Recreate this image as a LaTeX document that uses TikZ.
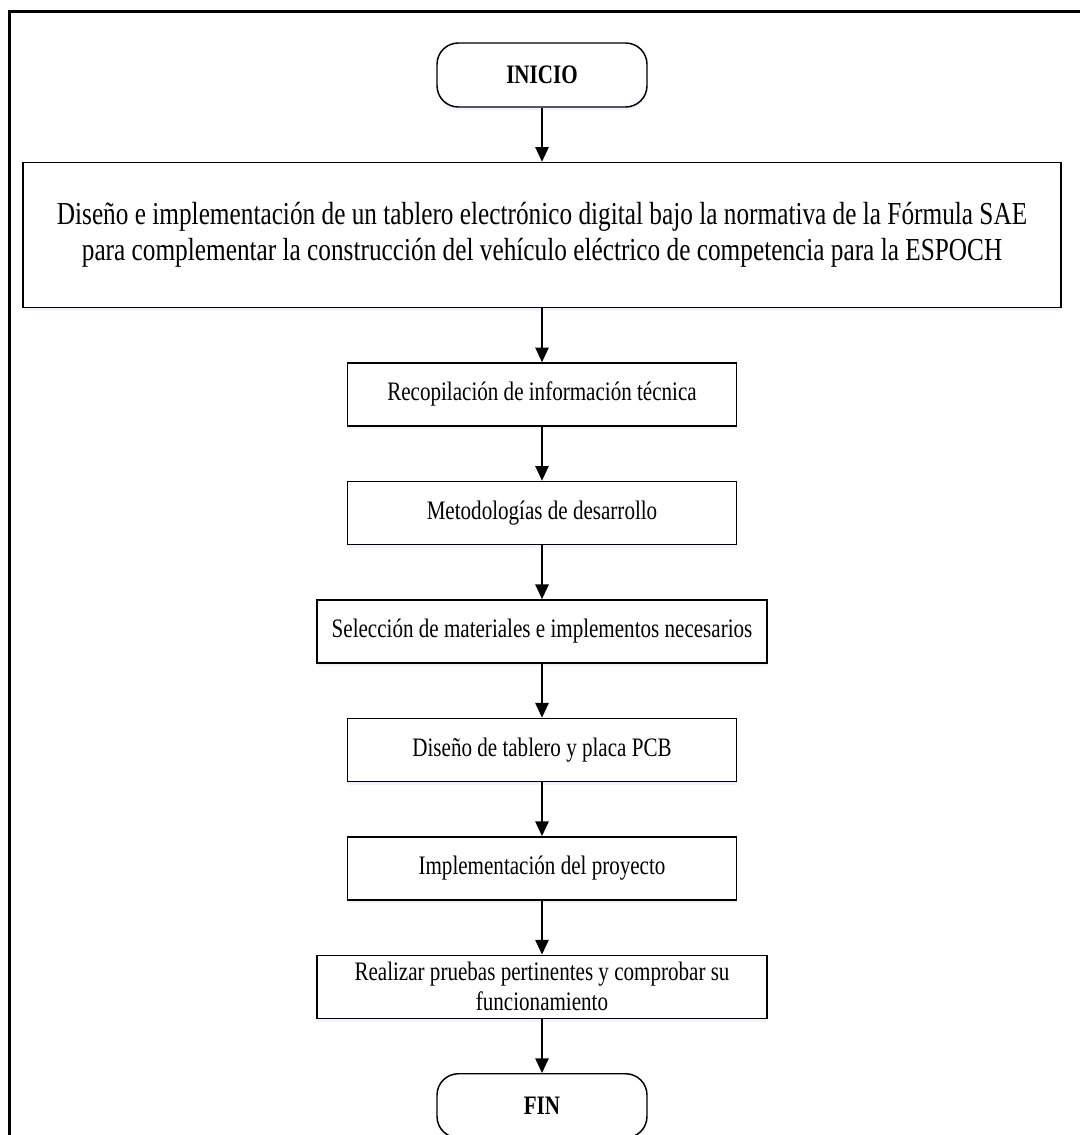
\documentclass[tikz,border=0pt]{standalone}
\usepackage{fontspec}
\setmainfont{Liberation Serif}[FakeStretch=0.79]
\usetikzlibrary{arrows.meta,positioning,shadows}

\begin{document}
\begin{tikzpicture}[
  node distance=40.5pt,
  base/.style={draw,fill=white,line width=1.1pt,align=center,inner sep=2pt,
               drop shadow={opacity=0.10,fill=blue!50,shadow xshift=0pt,shadow yshift=-2.5pt}},
  term/.style={base,rounded corners=16pt,minimum width=157.5pt,minimum height=48pt,
               font=\fontsize{20}{22}\selectfont\bfseries},
  titlebox/.style={base,minimum width=778.5pt,minimum height=108.75pt,
               font=\fontsize{24}{27}\selectfont},
  stepbox/.style={base,minimum width=291.75pt,minimum height=47.25pt,
               font=\fontsize{20}{22.5}\selectfont},
  widebox/.style={stepbox,minimum width=337.5pt},
  ar/.style={-{Triangle[length=11pt,width=10pt]},line width=1.2pt}
]
\useasboundingbox (0,0) rectangle (810pt,-851.25pt);
% page frame
\draw[line width=2.25pt] (6.75pt,-851.25pt) -- (6.75pt,-8.25pt) -- (810pt,-8.25pt);

\node[term] (inicio) at (406.5pt,-56.25pt) {INICIO};
\node[titlebox, below=of inicio] (titulo) {Diseño e implementación de un tablero electrónico digital bajo la normativa de la Fórmula SAE\\para complementar la construcción del vehículo eléctrico de competencia para la ESPOCH};
\node[stepbox, below=of titulo] (recop) {Recopilación de información técnica};
\node[stepbox, below=of recop] (metod) {Metodologías de desarrollo};
\node[widebox, below=of metod] (selec) {Selección de materiales e implementos necesarios};
\node[stepbox, below=of selec] (tablero) {Diseño de tablero y placa PCB};
\node[stepbox, below=of tablero] (implem) {Implementación del proyecto};
\node[widebox, below=of implem] (pruebas) {Realizar pruebas pertinentes y comprobar su\\funcionamiento};
\node[term, below=of pruebas] (fin) {FIN};

\draw[ar] (inicio) -- (titulo);
\draw[ar] (titulo) -- (recop);
\draw[ar] (recop) -- (metod);
\draw[ar] (metod) -- (selec);
\draw[ar] (selec) -- (tablero);
\draw[ar] (tablero) -- (implem);
\draw[ar] (implem) -- (pruebas);
\draw[ar] (pruebas) -- (fin);
\end{tikzpicture}
\end{document}
